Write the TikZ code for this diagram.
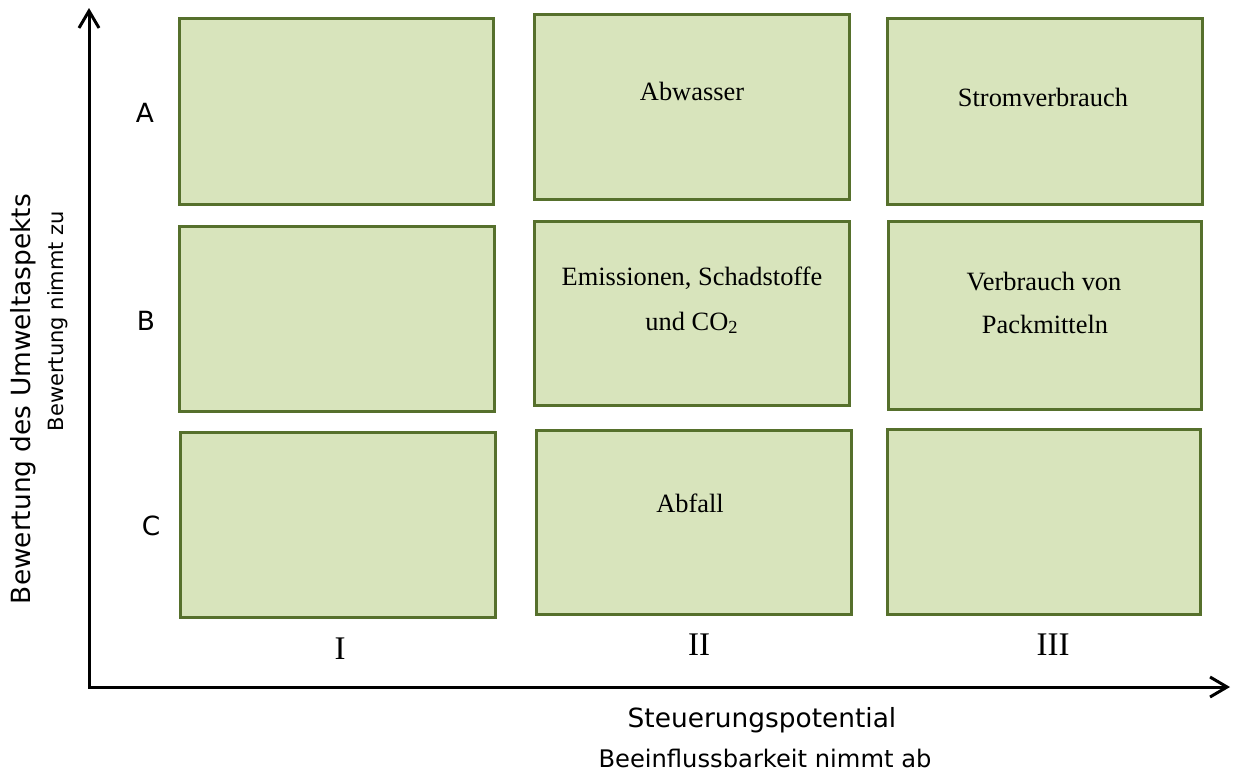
\documentclass[tikz,border=0pt]{standalone}
\usepackage{fontspec}
\setmainfont{Liberation Serif}
\newfontfamily\verdana{DejaVu Sans}
\usetikzlibrary{arrows.meta}

\definecolor{feldgruen}{HTML}{D8E4BC}
\definecolor{randgruen}{HTML}{56702C}

\tikzset{
  feld/.style={draw=randgruen, fill=feldgruen, line width=1.5pt},
  achse/.style={line width=1.5pt, {Straight Barb[length=8.5pt,width=10pt]}-{Straight Barb[length=8.5pt,width=10pt]}},
  zeile/.style={font=\verdana\fontsize{13.2}{16}\selectfont, inner sep=0pt, anchor=base},
  klein/.style={font=\verdana\fontsize{12.1}{15}\selectfont, inner sep=0pt, anchor=base},
  inhalt/.style={font=\fontsize{13.2}{16}\selectfont, inner sep=0pt, anchor=base},
  spalte/.style={font=\fontsize{16.5}{20}\selectfont, inner sep=0pt, anchor=base}
}

\begin{document}
\begin{tikzpicture}[x=0.5pt,y=-0.5pt]
\path[use as bounding box] (0,0) rectangle (1236,783);

\draw[feld] (179,18) rectangle (493,204);
\draw[feld] (534,14) rectangle (849,199);
\draw[feld] (887,18) rectangle (1202,204);

\draw[feld] (179,226) rectangle (494,411);
\draw[feld] (534,221) rectangle (849,405);
\draw[feld] (888,221) rectangle (1201,409);

\draw[feld] (180,432) rectangle (495,617);
\draw[feld] (536,430) rectangle (851,614);
\draw[feld] (887,429) rectangle (1200,614);

\node[inhalt] (abwasser) at (692,100) {Abwasser};
\node[inhalt] (strom) at (1043,106) {Stromverbrauch};
\node[inhalt] (emission) at (692,285) {Emissionen, Schadstoffe};
\node[inhalt] (co) at (692,330) {und CO\textsubscript{2}};
\node[inhalt] (verbrauch) at (1044,290) {Verbrauch von};
\node[inhalt] (packmittel) at (1045,333) {Packmitteln};
\node[inhalt] (abfall) at (690,512) {Abfall};

\node[zeile] (a) at (145,122) {A};
\node[zeile] (b) at (146,330) {B};
\node[zeile] (c) at (151,535) {C};

\node[spalte] (eins) at (340,659) {I};
\node[spalte] (zwei) at (699,655) {II};
\node[spalte] (drei) at (1053,655) {III};

\coordinate (ursprung) at (89,687);
\coordinate (yende) at (89,8);
\coordinate (xende) at (1230,687);
\draw[achse] (yende) -- (ursprung) -- (xende);

\node[zeile] (steuerung) at (762,727) {Steuerungspotential};
\node[klein] (beeinfluss) at (765,767) {Beeinflussbarkeit nimmt ab};
\node[zeile, rotate=90] (bewertung) at (30,399) {Bewertung des Umweltaspekts};
\node[klein, font=\verdana\fontsize{10.5}{12}\selectfont, rotate=90] (zunahme) at (63,321) {Bewertung nimmt zu};
\end{tikzpicture}
\end{document}
